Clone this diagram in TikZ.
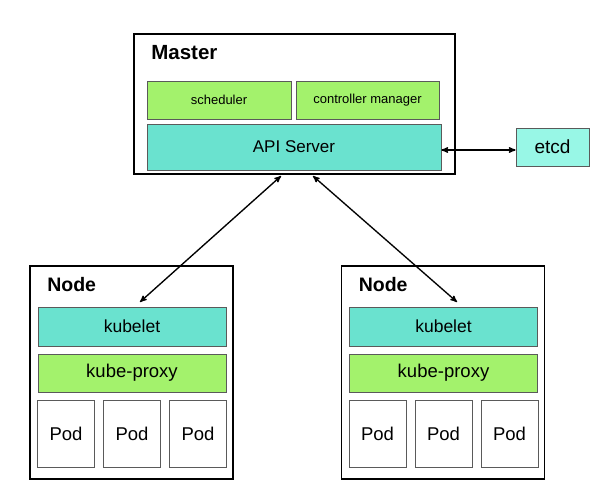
\documentclass[tikz,border=0pt]{standalone}
\usepackage{fontspec}
\setmainfont{Liberation Sans}
\usepackage{xcolor}
\usetikzlibrary{arrows,positioning,calc}

\definecolor{leaf}{HTML}{A3F26C}
\definecolor{teal}{HTML}{6AE2CF}
\definecolor{aqua}{HTML}{98F7E6}
\definecolor{edge}{HTML}{5A5A5A}

\begin{document}
\begin{tikzpicture}[x=1pt,y=-1pt,<->,>=stealth',semithick]
			\tikzstyle{frame}=[draw=black,line width=1.3pt,fill=white,inner sep=0pt]
			\tikzstyle{part}=[draw=edge,line width=0.8pt,inner sep=0pt,text=black]
			\tikzstyle{title}=[font=\fontsize{19.5}{22}\selectfont\bfseries,anchor=west,inner sep=0pt]
			\tikzstyle{link}=[line width=1.35pt,black]
			\useasboundingbox (0,0) rectangle (612,500);
			
			% master
			\node[frame, minimum width=321pt, minimum height=140pt] (master) at (294.5,104) {};
			\node[title, font=\fontsize{20.5}{23}\selectfont\bfseries] (mastertxt) at (151,53) {Master};
			\node[part, fill=leaf, minimum width=144pt, minimum height=38pt, font=\fontsize{13}{15}\selectfont] (sched) at (219,100) {scheduler};
			\node[part, fill=leaf, minimum width=143pt, minimum height=38pt, font=\fontsize{13}{15}\selectfont] (ctrl) at (367.5,100) {controller manager};
			\node[part, fill=teal, minimum width=294pt, minimum height=46pt, font=\fontsize{17}{20}\selectfont] (api) at (294,147) {API Server};
			\node[part, fill=aqua, minimum width=73pt, minimum height=38pt, font=\fontsize{19}{22}\selectfont] (etcd) at (552.5,147) {etcd};
			
			% nodes
			\foreach \n/\x in {1/131.5,2/443}{
				\node[frame, minimum width=203pt, minimum height=213pt] (node\n) at (\x,372.5) {};
				\node[title] (nodetxt\n) at (\x-84.5,285) {Node};
				\node[part, fill=teal, minimum width=188pt, minimum height=39pt, font=\fontsize{17.5}{20}\selectfont] (kubelet\n) at (\x+0.5,326.5) {kubelet};
				\node[part, fill=leaf, minimum width=188pt, minimum height=38pt, font=\fontsize{18.5}{21}\selectfont] (proxy\n) at (\x+0.5,373) {kube-proxy};
				\foreach \p/\dx in {a/-65.5,b/0.5,c/66.5}
					\node[part, fill=white, minimum width=57pt, minimum height=67pt, font=\fontsize{18.5}{21}\selectfont] (pod\n\p) at (\x+\dx,433.5) {Pod};
			}
			
			\coordinate (m1) at (281,176);
			\coordinate (m2) at (313,176);
			\coordinate (k1) at (140,302);
			\coordinate (k2) at (457,302);
			
			\path[link]
			(m1) edge[link] (k1)
			(m2) edge[link] (k2)
			([yshift=-3pt]api.east) edge[link] ([yshift=-3pt]etcd.west);
			
\end{tikzpicture}
\end{document}
